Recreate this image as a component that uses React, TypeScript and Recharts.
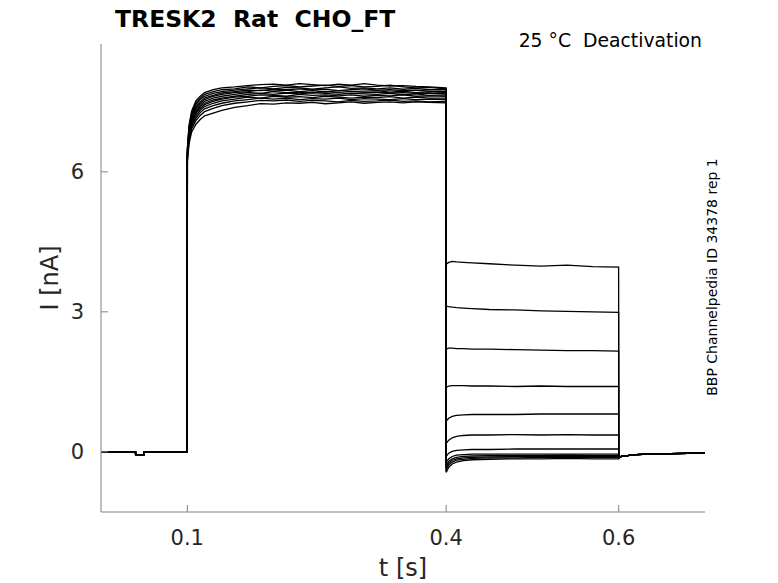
import React from 'react';
import { LineChart, Line, XAxis, YAxis } from 'recharts';

// time points (s), split by protocol segment
const baselineT = [0, 0.04, 0.0401, 0.05, 0.0501, 0.1];
const activationT = [0.1001, 0.102, 0.105, 0.11, 0.115, 0.12, 0.13, 0.14];
const plateauT = [0.155, 0.17, 0.185, 0.2, 0.215, 0.23, 0.245, 0.26, 0.275, 0.29, 0.305, 0.32, 0.335, 0.35, 0.365, 0.38, 0.3999];
const deactT = [0.4, 0.403, 0.407, 0.412, 0.42, 0.43, 0.45, 0.48, 0.51, 0.54, 0.57, 0.5999];
const tailT = [0.6, 0.603, 0.61, 0.62, 0.635, 0.66, 0.7];

// shared current (nA) for holding segments
const baselineI = [0, 0, -0.06, -0.06, 0, 0];
const tailI = [-0.13, -0.1, -0.08, -0.06, -0.05, -0.04, -0.03];

// activation rise per sweep
const activation = [
  [6.5, 7.0, 7.3, 7.52, 7.62, 7.7, 7.76, 7.8],
  [6.48, 6.95, 7.25, 7.48, 7.58, 7.66, 7.72, 7.76],
  [6.45, 6.92, 7.22, 7.44, 7.55, 7.62, 7.68, 7.72],
  [6.42, 6.88, 7.18, 7.4, 7.5, 7.58, 7.64, 7.69],
  [6.4, 6.85, 7.15, 7.36, 7.47, 7.55, 7.62, 7.66],
  [6.38, 6.82, 7.12, 7.32, 7.43, 7.51, 7.58, 7.62],
  [6.36, 6.79, 7.08, 7.28, 7.4, 7.47, 7.54, 7.58],
  [6.34, 6.76, 7.05, 7.25, 7.36, 7.44, 7.51, 7.56],
  [6.32, 6.73, 7.0, 7.2, 7.32, 7.4, 7.47, 7.52],
  [6.3, 6.7, 6.96, 7.15, 7.27, 7.35, 7.42, 7.47],
  [6.27, 6.66, 6.92, 7.1, 7.21, 7.29, 7.36, 7.42],
  [6.22, 6.6, 6.85, 7.02, 7.12, 7.2, 7.26, 7.32],
];

// steady-state plateau per sweep
const plateau = [
  [7.82, 7.85, 7.87, 7.88, 7.86, 7.89, 7.87, 7.85, 7.88, 7.86, 7.89, 7.86, 7.84, 7.85, 7.83, 7.82, 7.8],
  [7.78, 7.82, 7.8, 7.83, 7.85, 7.82, 7.84, 7.86, 7.83, 7.85, 7.82, 7.83, 7.86, 7.82, 7.8, 7.81, 7.78],
  [7.75, 7.78, 7.8, 7.78, 7.81, 7.8, 7.77, 7.8, 7.82, 7.79, 7.8, 7.78, 7.8, 7.77, 7.79, 7.76, 7.76],
  [7.72, 7.75, 7.74, 7.77, 7.76, 7.78, 7.75, 7.77, 7.74, 7.76, 7.78, 7.75, 7.76, 7.74, 7.75, 7.73, 7.72],
  [7.7, 7.72, 7.75, 7.73, 7.75, 7.72, 7.74, 7.71, 7.74, 7.72, 7.73, 7.74, 7.71, 7.73, 7.7, 7.72, 7.7],
  [7.66, 7.7, 7.68, 7.72, 7.7, 7.71, 7.69, 7.72, 7.7, 7.68, 7.7, 7.71, 7.69, 7.7, 7.68, 7.69, 7.67],
  [7.62, 7.66, 7.68, 7.66, 7.69, 7.67, 7.7, 7.68, 7.66, 7.68, 7.67, 7.66, 7.68, 7.65, 7.67, 7.64, 7.65],
  [7.6, 7.62, 7.65, 7.64, 7.62, 7.66, 7.64, 7.65, 7.63, 7.65, 7.62, 7.64, 7.63, 7.65, 7.62, 7.63, 7.62],
  [7.56, 7.6, 7.58, 7.62, 7.6, 7.61, 7.59, 7.62, 7.6, 7.58, 7.6, 7.59, 7.61, 7.58, 7.6, 7.58, 7.58],
  [7.52, 7.55, 7.58, 7.56, 7.58, 7.55, 7.57, 7.56, 7.58, 7.55, 7.57, 7.56, 7.55, 7.57, 7.55, 7.56, 7.55],
  [7.47, 7.5, 7.53, 7.52, 7.54, 7.51, 7.53, 7.52, 7.5, 7.53, 7.51, 7.52, 7.54, 7.51, 7.52, 7.5, 7.51],
  [7.38, 7.42, 7.46, 7.45, 7.48, 7.47, 7.49, 7.46, 7.48, 7.5, 7.47, 7.49, 7.5, 7.48, 7.5, 7.49, 7.48],
];

// deactivation step per sweep
const deactivation = [
  [4.02, 4.06, 4.08, 4.07, 4.06, 4.05, 4.03, 4.0, 3.98, 4.0, 3.97, 3.96],
  [3.12, 3.11, 3.1, 3.09, 3.08, 3.07, 3.05, 3.04, 3.02, 3.01, 3.0, 2.99],
  [2.2, 2.22, 2.22, 2.21, 2.21, 2.2, 2.2, 2.19, 2.18, 2.17, 2.17, 2.16],
  [1.38, 1.41, 1.42, 1.42, 1.42, 1.41, 1.41, 1.4, 1.41, 1.4, 1.4, 1.4],
  [0.66, 0.72, 0.76, 0.78, 0.79, 0.8, 0.8, 0.8, 0.81, 0.81, 0.81, 0.81],
  [0.18, 0.25, 0.3, 0.33, 0.35, 0.36, 0.36, 0.37, 0.36, 0.37, 0.36, 0.36],
  [-0.1, -0.03, 0.01, 0.03, 0.04, 0.05, 0.05, 0.06, 0.06, 0.06, 0.06, 0.06],
  [-0.22, -0.15, -0.1, -0.07, -0.06, -0.05, -0.05, -0.05, -0.05, -0.05, -0.05, -0.05],
  [-0.28, -0.2, -0.15, -0.12, -0.1, -0.09, -0.08, -0.08, -0.08, -0.07, -0.08, -0.08],
  [-0.33, -0.24, -0.18, -0.15, -0.13, -0.12, -0.11, -0.1, -0.1, -0.1, -0.1, -0.1],
  [-0.38, -0.28, -0.22, -0.18, -0.16, -0.14, -0.13, -0.13, -0.12, -0.12, -0.12, -0.12],
  [-0.44, -0.33, -0.26, -0.22, -0.19, -0.17, -0.16, -0.15, -0.15, -0.14, -0.15, -0.15],
];

const xTicks = [0.1, 0.4, 0.6];
const yTicks = [0, 3, 6];

const times = [...baselineT, ...activationT, ...plateauT, ...deactT, ...tailT];
const sweeps = activation.map((a, i) => [...baselineI, ...a, ...plateau[i], ...deactivation[i], ...tailI]);
const data = times.map((t, k) => {
  const row: any = { t };
  sweeps.forEach((s, i) => { row['s' + i] = s[k]; });
  return row;
});

const FONT = 'DejaVu Sans';
const AXIS = '#808080';
const TEXT = '#262626';

const YTick = ({ x, y, payload }: any) => (
  <g>
    <line x1={x} x2={x + 7} y1={y} y2={y} stroke={AXIS} />
    <text x={x - 17} y={y} dy="0.36em" textAnchor="end" fontFamily={FONT} fontSize={21} fill={TEXT}>
      {payload.value}
    </text>
  </g>
);

const XTick = ({ x, y, payload }: any) => (
  <g>
    <line x1={x} x2={x} y1={y} y2={y - 7} stroke={AXIS} />
    <text x={x} y={y + 33} textAnchor="middle" fontFamily={FONT} fontSize={21} fill={TEXT}>
      {payload.value}
    </text>
  </g>
);

export default function App() {
  return (
    <div style={{ position: 'absolute', left: 0, top: 0, width: 778, height: 583, background: '#fff' }}>
      <LineChart width={778} height={583} data={data} margin={{ top: 44, right: 73, bottom: 0, left: 0 }}>
        <XAxis
          dataKey="t"
          type="number"
          domain={[0, 0.7]}
          ticks={xTicks}
          allowDataOverflow
          height={71}
          tickSize={0}
          tickMargin={0}
          tickLine={false}
          axisLine={{ stroke: AXIS }}
          tick={<XTick />}
        />
        <YAxis
          type="number"
          domain={[-1.29, 8.74]}
          ticks={yTicks}
          allowDataOverflow
          width={101}
          tickSize={0}
          tickMargin={0}
          tickLine={false}
          axisLine={{ stroke: AXIS }}
          tick={<YTick />}
        />
        {sweeps.map((_, i) => (
          <Line
            key={i}
            type="linear"
            dataKey={'s' + i}
            stroke="#000"
            strokeWidth={1.3}
            dot={false}
            activeDot={false}
            isAnimationActive={false}
          />
        ))}
      </LineChart>
      <svg width={778} height={583} style={{ position: 'absolute', left: 0, top: 0, pointerEvents: 'none' }}>
        <text x={115} y={27} fontFamily={FONT} fontWeight="bold" fontSize={23.5} fill="#000" style={{ whiteSpace: 'pre' }}>
          {'TRESK2  Rat  CHO_FT'}
        </text>
        <text x={702} y={47} textAnchor="end" fontFamily={FONT} fontSize={18.8} fill="#000" style={{ whiteSpace: 'pre' }}>
          {'25 °C  Deactivation'}
        </text>
        <text x={403} y={576} textAnchor="middle" fontFamily={FONT} fontSize={24} fill={TEXT}>
          t [s]
        </text>
        <text x={58} y={278} textAnchor="middle" transform="rotate(-90 58 278)" fontFamily={FONT} fontSize={24} fill={TEXT}>
          I [nA]
        </text>
        <text x={717} y={277} textAnchor="middle" transform="rotate(-90 717 277)" fontFamily={FONT} fontSize={14} fill="#000">
          BBP Channelpedia ID 34378 rep 1
        </text>
      </svg>
    </div>
  );
}
